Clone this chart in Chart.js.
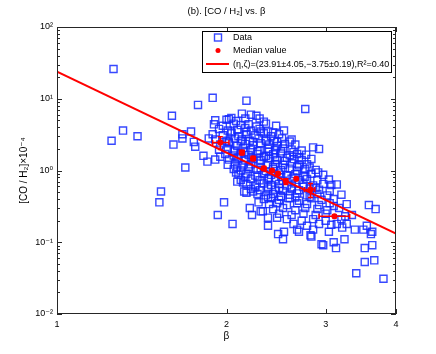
<!DOCTYPE html>
<html>
<head>
<meta charset="utf-8">
<script src="https://cdn.jsdelivr.net/npm/chart.js@4/dist/chart.umd.min.js"></script>
<style>
body { margin: 0; background: #fff; }
canvas { display: block; }
</style>
</head>
<body>
<canvas id="chart" width="436" height="354"></canvas>
<script>
const FONT = '"Liberation Sans", "DejaVu Sans", sans-serif'

// [beta, CO/H2 (x1e-4)] pairs
const dataPoints = [
	[1.26, 26], [1.60, 5.8], [1.78, 8.2], [1.89, 10.3], [2.17, 9.4], [2.21, 6.0], [2.76, 7.2], [2.00, 5.1], [2.04, 5.4], [2.16, 5.3],
	[1.31, 3.6], [1.25, 2.6], [1.39, 3.0], [1.73, 3.5], [1.67, 3.2], [1.67, 2.8], [1.61, 2.3], [1.75, 2.5], [1.76, 2.15], [1.86, 2.8],
	[1.82, 1.6], [1.85, 1.33], [1.91, 1.42], [1.69, 1.1], [1.53, 0.51], [1.52, 0.36], [1.98, 0.36], [1.93, 0.24], [2.05, 0.18], [2.20, 0.30],
	[2.22, 0.24], [2.30, 0.27], [2.37, 0.22], [2.37, 0.17], [2.47, 0.13], [2.53, 0.14], [2.69, 0.14], [2.82, 0.125], [2.95, 0.094], [3.10, 0.10],
	[3.24, 0.11], [3.38, 0.15], [3.58, 0.33], [3.68, 0.29], [3.55, 0.17], [3.63, 0.14], [3.52, 0.083], [3.63, 0.091], [3.10, 0.32], [3.25, 0.23],
	[3.14, 0.64], [3.04, 0.75], [2.91, 0.94], [2.85, 2.1], [2.92, 2.0], [2.52, 0.11], [2.83, 0.12], [2.97, 0.091], [3.13, 0.083], [3.21, 0.16],
	[3.61, 0.13], [3.52, 0.053], [3.66, 0.056], [3.40, 0.037], [3.80, 0.031], [3.04, 0.14], [3.14, 0.18], [2.46, 0.22], [2.17, 0.49], [2.15, 0.51],
	[2.09, 0.70], [2.14, 0.68], [2.08, 0.94], [2.23, 0.51], [2.28, 0.36], [2.32, 0.27], [1.95, 1.56],
	// dense part
	[2.13, 6.2], [2.26, 5.8],
	[1.91, 5.0], [2.02, 5.2], [2.08, 4.9], [2.29, 5.3], [2.33, 4.8],
	[1.90, 4.4], [1.97, 4.2], [2.06, 4.5], [2.12, 4.3], [2.19, 4.4], [2.26, 4.1], [2.35, 4.5], [2.45, 4.2],
	[1.94, 3.8], [2.01, 3.6], [2.09, 3.7], [2.16, 3.9], [2.21, 3.6], [2.29, 3.8], [2.37, 3.5], [2.53, 3.6],
	[2.04, 3.48], [2.17, 3.45], [2.30, 3.5], [2.42, 3.4],
	[1.89, 3.2], [1.97, 3.1], [2.04, 3.3], [2.10, 3.0], [2.17, 3.2], [2.25, 3.1], [2.33, 3.3], [2.40, 3.0], [2.48, 3.2],
	[1.91, 2.7], [2.00, 2.6], [2.07, 2.8], [2.13, 2.7], [2.20, 2.6], [2.28, 2.8], [2.35, 2.7], [2.43, 2.6], [2.51, 2.8], [2.61, 2.7],
	[2.02, 2.5], [2.12, 2.55], [2.23, 2.5], [2.35, 2.56], [2.46, 2.5], [2.59, 2.53],
	[1.95, 2.3], [2.02, 2.4], [2.09, 2.2], [2.16, 2.35], [2.23, 2.25], [2.30, 2.4], [2.38, 2.3], [2.46, 2.2], [2.54, 2.35], [2.65, 2.3],
	[1.94, 1.95], [2.01, 2.0], [2.07, 1.9], [2.14, 2.05], [2.21, 1.95], [2.29, 1.9], [2.37, 2.0], [2.44, 1.92], [2.52, 2.02], [2.61, 1.95], [2.72, 1.9],
	[2.06, 1.84], [2.16, 1.8], [2.27, 1.86], [2.38, 1.82], [2.50, 1.85], [2.63, 1.8],
	[1.99, 1.7], [2.06, 1.62], [2.12, 1.72], [2.19, 1.65], [2.27, 1.7], [2.35, 1.6], [2.42, 1.68], [2.50, 1.72], [2.59, 1.63], [2.67, 1.7], [2.77, 1.66],
	[2.10, 1.52], [2.21, 1.5], [2.33, 1.54], [2.44, 1.52], [2.56, 1.5], [2.69, 1.53],
	[2.02, 1.42], [2.09, 1.46], [2.16, 1.38], [2.23, 1.44], [2.30, 1.4], [2.38, 1.47], [2.46, 1.4], [2.54, 1.36], [2.63, 1.44], [2.72, 1.4], [2.83, 1.45],
	[2.01, 1.2], [2.07, 1.25], [2.14, 1.18], [2.21, 1.22], [2.29, 1.25], [2.37, 1.19], [2.44, 1.23], [2.52, 1.2], [2.61, 1.26], [2.69, 1.18], [2.78, 1.22],
	[2.09, 1.1], [2.19, 1.12], [2.30, 1.08], [2.42, 1.11], [2.54, 1.09], [2.67, 1.12], [2.81, 1.1],
	[2.06, 1.05], [2.12, 1.0], [2.19, 1.06], [2.27, 1.02], [2.35, 0.98], [2.42, 1.05], [2.50, 1.01], [2.59, 1.06], [2.67, 0.99], [2.76, 1.04], [2.88, 1.02],
	[2.10, 0.88], [2.17, 0.9], [2.25, 0.85], [2.33, 0.9], [2.40, 0.87], [2.48, 0.91], [2.56, 0.86], [2.65, 0.89], [2.74, 0.85], [2.83, 0.9], [2.97, 0.87],
	[2.16, 0.8], [2.27, 0.82], [2.38, 0.79], [2.50, 0.81], [2.63, 0.8], [2.76, 0.82],
	[2.12, 0.74], [2.21, 0.77], [2.29, 0.73], [2.37, 0.76], [2.44, 0.75], [2.52, 0.72], [2.61, 0.77], [2.69, 0.74], [2.78, 0.76], [2.90, 0.73],
	[2.17, 0.65], [2.25, 0.62], [2.33, 0.66], [2.40, 0.63], [2.48, 0.65], [2.56, 0.62], [2.65, 0.66], [2.74, 0.64], [2.85, 0.62], [2.97, 0.65], [3.07, 0.63],
	[2.25, 0.58], [2.37, 0.59], [2.48, 0.57], [2.61, 0.58], [2.74, 0.59], [2.88, 0.57],
	[2.21, 0.55], [2.29, 0.53], [2.37, 0.56], [2.44, 0.54], [2.52, 0.52], [2.61, 0.55], [2.69, 0.53], [2.81, 0.56], [2.92, 0.54], [3.05, 0.52],
	[2.27, 0.47], [2.35, 0.45], [2.42, 0.47], [2.50, 0.44], [2.59, 0.46], [2.67, 0.48], [2.78, 0.45], [2.90, 0.47], [3.02, 0.45], [3.20, 0.46],
	[2.37, 0.42], [2.50, 0.43], [2.65, 0.42], [2.81, 0.43],
	[2.33, 0.40], [2.40, 0.41], [2.48, 0.39], [2.59, 0.41], [2.69, 0.38], [2.83, 0.41], [2.95, 0.39], [3.10, 0.40],
	[2.38, 0.34], [2.46, 0.35], [2.56, 0.33], [2.67, 0.35], [2.78, 0.34], [2.92, 0.33], [3.05, 0.35], [3.27, 0.34],
	[2.42, 0.29], [2.52, 0.30], [2.65, 0.28], [2.76, 0.30], [2.90, 0.29], [3.02, 0.28], [3.17, 0.30],
	[2.48, 0.25], [2.61, 0.24], [2.74, 0.25], [2.88, 0.24], [3.00, 0.25], [3.34, 0.24],
	[2.56, 0.21], [2.72, 0.20], [2.85, 0.21], [3.00, 0.20], [3.20, 0.21],
	[2.63, 0.18], [2.78, 0.17], [2.92, 0.18], [3.07, 0.175], [3.27, 0.18],
	[2.67, 0.15], [2.85, 0.15], [3.50, 0.15],
]

// median values with their error ranges
const medianBeta = [1.95, 2.13, 2.23, 2.33, 2.41, 2.47, 2.55, 2.66, 2.82, 3.11]
const medianRatio = [2.45, 1.78, 1.47, 1.07, 1.0, 0.91, 0.70, 0.77, 0.545, 0.23]
const medianBetaLow = [1.89, 2.11, 2.21, 2.31, 2.40, 2.46, 2.54, 2.65, 2.75, 2.92]
const medianBetaHigh = [2.02, 2.15, 2.25, 2.35, 2.42, 2.48, 2.56, 2.67, 2.87, 3.31]
const medianRatioLow = [1.96, 1.65, 1.37, 1.0, 0.96, 0.87, 0.64, 0.74, 0.42, 0.22]
const medianRatioHigh = [2.96, 1.92, 1.58, 1.15, 1.04, 0.95, 0.77, 0.80, 0.66, 0.24]

// power-law fit end points
const fitBeta = [1, 4]
const fitRatio = [23.91, 0.132]

const xTicks = [1, 2, 3, 4]
const yTicks = [0.01, 0.1, 1, 10, 100]

const titleText = "(b). [CO / H₂] vs. β"
const xTitle = "β"
const yTitle = "[CO / H₂]×10⁻⁴"
const legendLabels = ["Data", "Median value", "(η,ζ)=(23.91±4.05,−3.75±0.19),R²=0.40"]

const BLUE = "rgba(20, 40, 255, 0.85)"
const RED = "#ff0000"

const sup = { "-": "⁻", "0": "⁰", "1": "¹", "2": "²", "3": "³", "4": "⁴" }
function powerLabel(v) {
	const e = Math.round(Math.log10(v))
	return "10" + String(e).split("").map(c => sup[c]).join("")
}

const decorations = {
	id: "decorations",
	afterDatasetsDraw(chart) {
		const { ctx, chartArea: a, scales: { x, y } } = chart
		ctx.save()

		// error bars
		ctx.strokeStyle = RED
		ctx.lineWidth = 1.5
		medianBeta.forEach((b, i) => {
			const px = x.getPixelForValue(b)
			const py = y.getPixelForValue(medianRatio[i])
			const x0 = x.getPixelForValue(medianBetaLow[i])
			const x1 = x.getPixelForValue(medianBetaHigh[i])
			const y0 = y.getPixelForValue(medianRatioLow[i])
			const y1 = y.getPixelForValue(medianRatioHigh[i])
			ctx.beginPath()
			ctx.moveTo(x0, py); ctx.lineTo(x1, py)
			ctx.moveTo(x0, py - 2.5); ctx.lineTo(x0, py + 2.5)
			ctx.moveTo(x1, py - 2.5); ctx.lineTo(x1, py + 2.5)
			ctx.moveTo(px, y0); ctx.lineTo(px, y1)
			ctx.moveTo(px - 2.5, y0); ctx.lineTo(px + 2.5, y0)
			ctx.moveTo(px - 2.5, y1); ctx.lineTo(px + 2.5, y1)
			ctx.stroke()
		})

		// box and inward ticks
		ctx.strokeStyle = "#262626"
		ctx.lineWidth = 1
		ctx.strokeRect(a.left + 0.5, a.top + 0.5, a.width - 1, a.height - 1)
		ctx.beginPath()
		xTicks.forEach(v => {
			const px = Math.round(x.getPixelForValue(v)) + 0.5
			ctx.moveTo(px, a.bottom); ctx.lineTo(px, a.bottom - 5)
			ctx.moveTo(px, a.top); ctx.lineTo(px, a.top + 5)
		})
		yTicks.forEach(v => {
			const py = Math.round(y.getPixelForValue(v)) + 0.5
			ctx.moveTo(a.left, py); ctx.lineTo(a.left + 5, py)
			ctx.moveTo(a.right, py); ctx.lineTo(a.right - 5, py)
		})
		for (let e = -2; e < 2; e++) {
			for (let m = 2; m <= 9; m++) {
				const py = Math.round(y.getPixelForValue(m * Math.pow(10, e))) + 0.5
				ctx.moveTo(a.left, py); ctx.lineTo(a.left + 3, py)
				ctx.moveTo(a.right, py); ctx.lineTo(a.right - 3, py)
			}
		}
		ctx.stroke()
		ctx.restore()
	},
	afterDraw(chart) {
		const { ctx, chartArea: a } = chart
		ctx.save()

		// title
		ctx.fillStyle = "#000"
		ctx.font = "9.5px " + FONT
		ctx.textAlign = "center"
		ctx.textBaseline = "middle"
		ctx.fillText(titleText, (a.left + a.right) / 2, 11)

		// legend box
		const bx = a.right - 194, by = a.top + 4, bw = 189, bh = 41
		ctx.fillStyle = "#fff"
		ctx.fillRect(bx, by, bw, bh)
		ctx.strokeStyle = "#000"
		ctx.lineWidth = 1
		ctx.strokeRect(bx + 0.5, by + 0.5, bw, bh)
		const rows = [by + 6.5, by + 19.5, by + 33]
		const mx = bx + 16

		ctx.strokeStyle = BLUE
		ctx.lineWidth = 1.4
		ctx.strokeRect(mx - 3.5, rows[0] - 3.5, 7, 7)

		ctx.fillStyle = RED
		ctx.beginPath()
		ctx.arc(mx, rows[1], 2.5, 0, Math.PI * 2)
		ctx.fill()

		ctx.strokeStyle = RED
		ctx.lineWidth = 2
		ctx.beginPath()
		ctx.moveTo(bx + 4, rows[2]); ctx.lineTo(bx + 27, rows[2])
		ctx.stroke()

		ctx.fillStyle = "#000"
		ctx.font = "9px " + FONT
		ctx.textAlign = "left"
		legendLabels.forEach((t, i) => ctx.fillText(t, bx + 31, rows[i] + 0.5))
		ctx.restore()
	},
}

new Chart(document.getElementById("chart"), {
	type: "scatter",
	data: {
		datasets: [
			{
				label: "Median value",
				data: medianBeta.map((b, i) => ({ x: b, y: medianRatio[i] })),
				pointStyle: "circle",
				pointRadius: 3,
				backgroundColor: RED,
				borderColor: RED,
				borderWidth: 0,
			},
			{
				label: "fit",
				data: fitBeta.map((b, i) => ({ x: b, y: fitRatio[i] })),
				showLine: true,
				borderColor: RED,
				borderWidth: 2,
				pointRadius: 0,
			},
			{
				label: "Data",
				data: dataPoints.map(([b, r]) => ({ x: b, y: r })),
				pointStyle: "rect",
				pointRadius: 5,
				backgroundColor: "transparent",
				borderColor: BLUE,
				borderWidth: 1.4,
			},
		],
	},
	options: {
		responsive: false,
		animation: false,
		events: [],
		layout: { padding: { top: 27, right: 40, left: 0, bottom: 0 } },
		plugins: {
			legend: { display: false },
			tooltip: { enabled: false },
			title: { display: false },
		},
		scales: {
			x: {
				type: "logarithmic",
				min: 1,
				max: 4,
				grid: { display: false, drawTicks: false },
				border: { display: false },
				afterBuildTicks: s => { s.ticks = xTicks.map(v => ({ value: v })) },
				afterFit: s => { s.height = 40 },
				ticks: {
					color: "#000",
					font: { family: FONT, size: 9 },
					padding: 5,
					maxRotation: 0,
					autoSkip: false,
					callback: v => String(v),
				},
				title: {
					display: true,
					text: xTitle,
					color: "#000",
					font: { family: FONT, size: 10 },
					padding: { top: 0, bottom: 12 },
				},
			},
			y: {
				type: "logarithmic",
				min: 0.01,
				max: 100,
				grid: { display: false, drawTicks: false },
				border: { display: false },
				afterBuildTicks: s => { s.ticks = yTicks.map(v => ({ value: v })) },
				afterFit: s => { s.width = 57 },
				ticks: {
					color: "#000",
					font: { family: FONT, size: 9 },
					padding: 4,
					autoSkip: false,
					callback: v => powerLabel(v),
				},
				title: {
					display: true,
					text: yTitle,
					color: "#000",
					font: { family: FONT, size: 10 },
					padding: { top: 18, bottom: 0 },
				},
			},
		},
	},
	plugins: [decorations],
})
</script>
</body>
</html>
